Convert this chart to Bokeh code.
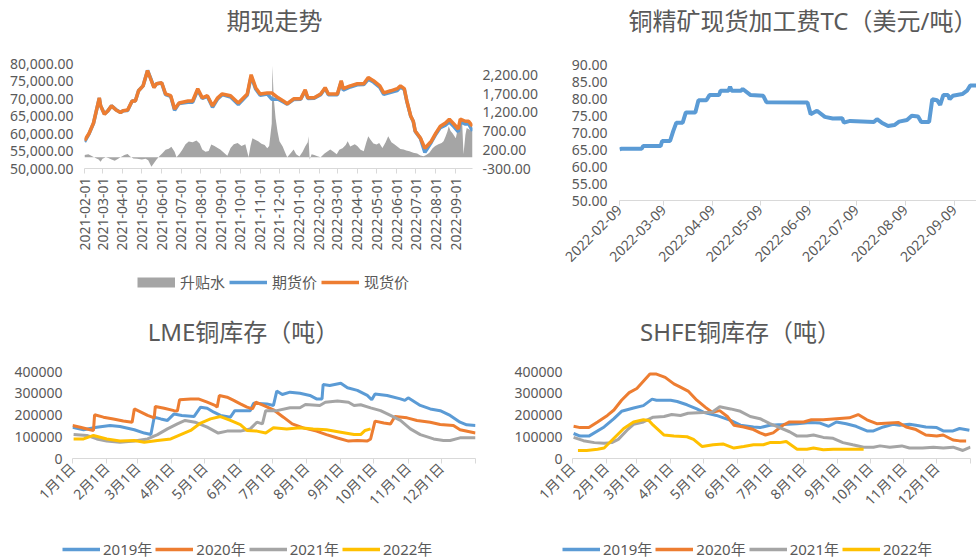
import math
import numpy as np
import pandas as pd
from bokeh.plotting import figure
from bokeh.models import (Range1d, LinearAxis, FixedTicker, NumeralTickFormatter,
                          DatetimeTickFormatter, Legend, LegendItem, Label)
from bokeh.layouts import row, column
from bokeh.embed import file_html
from bokeh.resources import INLINE

# ---------------- data: 期现走势 ----------------
spot_dates = [
    "2021-02-01", "2021-02-08", "2021-02-15", "2021-02-24", "2021-02-26", "2021-03-04", "2021-03-09", "2021-03-15",
    "2021-03-22", "2021-03-29", "2021-04-02", "2021-04-09", "2021-04-16", "2021-04-21", "2021-04-26", "2021-05-03",
    "2021-05-10", "2021-05-14", "2021-05-20", "2021-05-24", "2021-06-01", "2021-06-07", "2021-06-15", "2021-06-21",
    "2021-06-28", "2021-07-12", "2021-07-19", "2021-07-27", "2021-08-03", "2021-08-11", "2021-08-19", "2021-08-27",
    "2021-09-03", "2021-09-16", "2021-09-28", "2021-10-12", "2021-10-18", "2021-10-25", "2021-11-01", "2021-11-12",
    "2021-11-19", "2021-11-29", "2021-12-07", "2021-12-13", "2021-12-23", "2022-01-03", "2022-01-10", "2022-01-14",
    "2022-01-24", "2022-02-03", "2022-02-10", "2022-02-15", "2022-03-01", "2022-03-07", "2022-03-10", "2022-03-21",
    "2022-04-01", "2022-04-11", "2022-04-18", "2022-04-26", "2022-05-06", "2022-05-12", "2022-05-23", "2022-06-02",
    "2022-06-07", "2022-06-13", "2022-06-17", "2022-06-23", "2022-06-27", "2022-06-30", "2022-07-08", "2022-07-15",
    "2022-07-25", "2022-08-01", "2022-08-08", "2022-08-16", "2022-08-22", "2022-08-29", "2022-09-05", "2022-09-08",
    "2022-09-16", "2022-09-21", "2022-09-27"]
spot_price = [
    58000, 60000, 63000, 70200, 67900, 65500, 66400, 67900,
    66700, 66000, 66500, 66700, 69300, 69300, 72200, 73600,
    78000, 76000, 73100, 74200, 74500, 71300, 70800, 67000,
    68700, 69300, 69300, 72800, 70200, 70800, 67900, 70200,
    71300, 70800, 68700, 71300, 76800, 73100, 71300, 71600,
    71600, 70200, 69300, 68500, 69900, 69900, 72500, 70200,
    70200, 71300, 73100, 71300, 71300, 75100, 72800, 73600,
    74200, 74200, 76000, 75100, 73600, 71600, 72200, 72800,
    73600, 72800, 69300, 65000, 63500, 60700, 58700, 55800,
    57800, 60100, 62100, 63000, 64100, 62700, 61300, 64100,
    63500, 63500, 62100]
futures_price = [
    57600, 59900, 62900, 70100, 67900, 65600, 66400, 67900,
    66800, 66000, 66500, 66600, 69300, 69300, 72200, 73600,
    78000, 76200, 73200, 74200, 74400, 71100, 70600, 66600,
    68600, 68900, 68900, 72400, 70000, 70600, 67500, 69900,
    71100, 70400, 68300, 71000, 76300, 72700, 70900, 71300,
    69800, 69800, 69000, 68400, 69700, 69800, 72200, 70000,
    70100, 71100, 72900, 71100, 71100, 74800, 72400, 73300,
    73900, 74000, 75500, 74700, 73200, 71200, 71800, 72300,
    73300, 72600, 69100, 64900, 63400, 60600, 58600, 54600,
    57500, 59800, 61700, 62400, 63300, 62000, 60500, 63300,
    62700, 62800, 60700]
basis_dates = [
    "2021-02-01", "2021-02-07", "2021-02-13", "2021-02-18", "2021-02-23", "2021-02-26", "2021-03-01", "2021-03-06", "2021-03-10", "2021-03-15",
    "2021-03-20", "2021-03-24", "2021-03-29", "2021-04-04", "2021-04-09", "2021-04-13", "2021-04-18", "2021-04-24", "2021-05-01", "2021-05-07",
    "2021-05-11", "2021-05-16", "2021-05-19", "2021-05-24", "2021-05-29", "2021-06-02", "2021-06-07", "2021-06-12", "2021-06-16", "2021-06-21",
    "2021-06-24", "2021-06-29", "2021-07-03", "2021-07-08", "2021-07-13", "2021-07-19", "2021-07-25", "2021-07-30", "2021-08-03", "2021-08-08",
    "2021-08-13", "2021-08-17", "2021-08-22", "2021-08-27", "2021-08-31", "2021-09-07", "2021-09-11", "2021-09-16", "2021-09-21", "2021-09-27",
    "2021-10-03", "2021-10-09", "2021-10-14", "2021-10-17", "2021-10-20", "2021-10-25", "2021-10-29", "2021-11-03", "2021-11-08", "2021-11-12",
    "2021-11-15", "2021-11-19", "2021-11-20", "2021-11-22", "2021-11-25", "2021-11-28", "2021-12-01", "2021-12-06", "2021-12-09", "2021-12-13",
    "2021-12-18", "2021-12-23", "2021-12-27", "2022-01-01", "2022-01-06", "2022-01-10", "2022-01-14", "2022-01-15", "2022-01-17", "2022-01-20",
    "2022-01-24", "2022-01-29", "2022-02-03", "2022-02-09", "2022-02-14", "2022-02-18", "2022-02-23", "2022-02-28", "2022-03-04", "2022-03-09",
    "2022-03-14", "2022-03-17", "2022-03-21", "2022-03-28", "2022-04-01", "2022-04-06", "2022-04-11", "2022-04-15", "2022-04-18", "2022-04-21",
    "2022-04-26", "2022-05-01", "2022-05-05", "2022-05-10", "2022-05-15", "2022-05-19", "2022-05-24", "2022-05-29", "2022-06-02", "2022-06-07",
    "2022-06-12", "2022-06-16", "2022-06-21", "2022-06-27", "2022-07-03", "2022-07-08", "2022-07-13", "2022-07-17", "2022-07-22", "2022-07-27",
    "2022-07-31", "2022-08-05", "2022-08-10", "2022-08-13", "2022-08-16", "2022-08-19", "2022-08-21", "2022-08-24", "2022-08-27", "2022-09-01",
    "2022-09-05", "2022-09-10", "2022-09-11", "2022-09-13", "2022-09-16", "2022-09-18", "2022-09-22", "2022-09-27"]
basis_values = [
    60, 80, 30, -20, -60, -120, -40, 0, -20, -60,
    -90, -50, 0, 60, 90, 20, -30, -40, -60, -40,
    -80, -250, -180, -60, 40, 110, 200, 230, 280, 150,
    0, 100, 200, 350, 420, 400, 450, 370, 210, 150,
    170, 340, 300, 250, 210, 100, 40, 250, 350, 380,
    300, 350, 0, 300, 510, 460, 430, 360, 330, 240,
    300, 900, 2440, 1600, 1040, 690, 430, 290, 160, 0,
    100, 210, 80, 20, 150, 290, 400, 560, -60, 80,
    60, 30, 0, 100, 160, 210, 150, 80, 200, 240,
    330, 430, 290, 345, 300, 200, 160, 400, 560, 480,
    370, 340, 380, 250, 400, 560, 400, 340, 290, 220,
    210, 180, 160, 120, 100, 50, 30, 60, 120, 240,
    300, 345, 380, 430, 550, 690, 830, 700, 640, 510,
    830, 900, 910, 80, 600, 780, 740, 700]
price_ticks = [50000, 55000, 60000, 65000, 70000, 75000, 80000]
basis_ticks = [-300, 200, 700, 1200, 1700, 2200]
month_ticks_1 = ["2021-02-01", "2021-03-01", "2021-04-01", "2021-05-01", "2021-06-01", "2021-07-01",
                 "2021-08-01", "2021-09-01", "2021-10-01", "2021-11-01", "2021-12-01", "2022-01-01",
                 "2022-02-01", "2022-03-01", "2022-04-01", "2022-05-01", "2022-06-01", "2022-07-01",
                 "2022-08-01", "2022-09-01"]

# ---------------- data: 铜精矿现货加工费TC ----------------
tc_dates = [
    "2022-02-09", "2022-02-10", "2022-02-23", "2022-02-24", "2022-03-07", "2022-03-08", "2022-03-13", "2022-03-15",
    "2022-03-17", "2022-03-21", "2022-03-23", "2022-03-29", "2022-03-31", "2022-04-05", "2022-04-07", "2022-04-13",
    "2022-04-14", "2022-04-19", "2022-04-20", "2022-04-21", "2022-04-27", "2022-04-28", "2022-05-03", "2022-05-11",
    "2022-05-13", "2022-06-08", "2022-06-10", "2022-06-14", "2022-06-19", "2022-06-24", "2022-06-30", "2022-07-01",
    "2022-07-05", "2022-07-20", "2022-07-22", "2022-07-25", "2022-07-29", "2022-08-02", "2022-08-05", "2022-08-10",
    "2022-08-13", "2022-08-17", "2022-08-19", "2022-08-24", "2022-08-26", "2022-08-29", "2022-08-31", "2022-09-02",
    "2022-09-05", "2022-09-06", "2022-09-08", "2022-09-14", "2022-09-17", "2022-09-19", "2022-09-26"]
tc_values = [
    65.0, 65.2, 65.2, 66.0, 66.0, 67.5, 67.5, 70.4,
    72.9, 72.9, 75.9, 75.9, 79.5, 79.5, 81.0, 81.0,
    82.3, 82.3, 83.5, 82.3, 82.3, 82.8, 81.0, 80.8,
    78.9, 78.8, 75.4, 76.4, 74.6, 74.1, 74.2, 72.9,
    73.4, 73.1, 73.9, 72.9, 71.9, 72.2, 73.2, 73.7,
    74.9, 74.7, 73.1, 73.1, 79.8, 79.5, 78.1, 81.0,
    81.0, 79.8, 80.8, 81.3, 82.3, 83.8, 83.8]
tc_ticks = [50, 55, 60, 65, 70, 75, 80, 85, 90]
tc_month_ticks = ["2022-02-09", "2022-03-09", "2022-04-09", "2022-05-09", "2022-06-09",
                  "2022-07-09", "2022-08-09", "2022-09-09"]

# ---------------- data: 库存 (day of year, 千吨) ----------------
month_doy = [0, 31, 59, 90, 120, 151, 181, 212, 243, 273, 304, 334]
month_labels = ["1月1日", "2月1日", "3月1日", "4月1日", "5月1日", "6月1日",
                "7月1日", "8月1日", "9月1日", "10月1日", "11月1日", "12月1日"]
stock_ticks = [0, 100000, 200000, 300000, 400000]
years = ["2019年", "2020年", "2021年", "2022年"]

lme_2019_doy = [0, 10, 22, 34, 43, 56, 65, 71, 74, 80, 86, 92, 99, 110, 116, 122, 128, 134, 143, 147,
                161, 164, 176, 182, 185, 190, 197, 206, 215, 221, 226, 227, 233, 243, 249, 258, 267, 271, 274, 285,
                297, 301, 304, 315, 324, 333, 342, 351, 357, 365]
lme_2019_kt = [144, 132, 144, 152, 147, 132, 117, 110, 190, 182, 175, 205, 198, 193, 236, 231, 213, 198, 190, 220,
               220, 254, 251, 244, 310, 294, 305, 300, 290, 274, 274, 340, 336, 346, 325, 313, 290, 270, 297, 290,
               274, 267, 279, 244, 228, 220, 198, 167, 155, 152]
lme_2020_doy = [0, 7, 16, 19, 20, 28, 37, 46, 54, 56, 62, 68, 74, 75, 83, 92, 95, 97, 107, 114,
                122, 129, 131, 133, 140, 146, 152, 158, 163, 166, 173, 182, 191, 199, 209, 221, 230, 240, 250, 258,
                267, 270, 274, 282, 288, 292, 303, 312, 324, 333, 345, 351, 365]
lme_2020_kt = [152, 144, 132, 129, 201, 190, 182, 172, 167, 228, 213, 198, 187, 239, 231, 220, 218, 270, 274, 274,
               259, 244, 236, 290, 282, 267, 251, 236, 228, 259, 244, 224, 190, 159, 141, 126, 110, 94, 80, 83,
               80, 90, 172, 163, 159, 193, 187, 175, 167, 156, 152, 132, 117]
lme_2021_doy = [1, 13, 22, 31, 43, 56, 68, 77, 86, 95, 102, 111, 122, 132, 140, 152, 161, 167, 172, 175,
                185, 197, 206, 211, 224, 229, 240, 250, 255, 261, 270, 279, 288, 297, 306, 315, 327, 336, 342, 351, 365]
lme_2021_kt = [110, 106, 90, 80, 75, 80, 90, 110, 136, 159, 175, 167, 144, 117, 126, 126, 136, 167, 159, 220,
               220, 233, 233, 248, 244, 259, 264, 259, 244, 247, 233, 220, 198, 175, 136, 110, 90, 83, 83, 95, 95]
lme_2022_doy = [1, 10, 19, 31, 43, 56, 65, 77, 89, 98, 107, 116, 125, 134, 143, 152, 158, 167, 175, 182,
                194, 206, 218, 230, 243, 255, 261, 265, 270]
lme_2022_kt = [90, 90, 106, 90, 80, 83, 75, 83, 90, 110, 129, 163, 182, 193, 175, 156, 129, 126, 117, 141,
               136, 141, 136, 132, 121, 110, 110, 129, 136]

shfe_2019_doy = [1, 7, 15, 29, 38, 45, 56, 65, 73, 77, 90, 96, 105, 114, 120, 132, 145, 154, 166, 172,
                 181, 193, 206, 218, 227, 235, 242, 251, 260, 270, 276, 285, 294, 300, 309, 315, 324, 334, 340, 349,
                 355, 364]
shfe_2019_kt = [115, 103, 103, 145, 183, 217, 232, 243, 273, 268, 268, 262, 247, 228, 213, 198, 175, 153, 145, 142,
                153, 156, 160, 165, 163, 148, 168, 160, 148, 127, 127, 145, 157, 153, 157, 153, 145, 142, 127, 127,
                138, 130]
shfe_2020_doy = [1, 7, 15, 23, 32, 38, 45, 52, 59, 65, 71, 77, 85, 93, 99, 106, 114, 122, 128, 135,
                 142, 148, 157, 166, 172, 177, 184, 193, 199, 212, 219, 230, 242, 254, 262, 270, 279, 291, 299, 306,
                 315, 324, 334, 340, 349, 355, 361]
shfe_2020_kt = [148, 142, 142, 168, 198, 223, 268, 303, 322, 355, 388, 388, 373, 343, 328, 310, 268, 235, 213, 220,
                193, 153, 145, 133, 118, 108, 118, 153, 168, 168, 178, 178, 183, 187, 202, 178, 160, 163, 165, 145,
                133, 108, 103, 108, 85, 81, 81]
shfe_2021_doy = [1, 10, 20, 29, 36, 42, 50, 56, 65, 74, 84, 91, 99, 106, 120, 128, 135, 145, 154, 163,
                 172, 181, 190, 199, 206, 215, 221, 230, 239, 248, 257, 267, 276, 282, 291, 302, 309, 321, 331, 340,
                 349, 358, 365]
shfe_2021_kt = [97, 82, 73, 70, 73, 88, 130, 157, 168, 190, 193, 202, 198, 208, 211, 213, 238, 228, 217, 193,
                183, 160, 142, 123, 103, 103, 108, 97, 93, 73, 63, 52, 52, 58, 52, 58, 48, 48, 52, 48,
                52, 37, 52]
shfe_2022_doy = [5, 13, 23, 29, 38, 47, 56, 65, 70, 74, 84, 93, 105, 111, 119, 129, 138, 148, 157, 166,
                 175, 181, 190, 196, 206, 215, 221, 230, 239, 248, 257, 267]
shfe_2022_kt = [37, 37, 43, 48, 93, 138, 168, 178, 175, 153, 108, 103, 100, 88, 55, 63, 67, 48, 55, 63,
                63, 73, 73, 78, 43, 43, 48, 40, 43, 43, 43, 43]

# ---------------- styling helpers ----------------
TXT = "#595959"
AXLINE = "#D9D9D9"
BLUE, ORANGE, GRAY, YELLOW = "#5B9BD5", "#ED7D31", "#A5A5A5", "#FFC000"
NUM_FONT = "Noto Sans"
MIX_FONT = "Noto Sans, Noto Sans CJK SC"


def ms(s):
    return pd.Timestamp(s).value / 1e6


def base_fig(**kw):
    p = figure(output_backend="svg", toolbar_location=None, **kw)
    p.outline_line_color = None
    p.grid.visible = False
    p.background_fill_color = "white"
    p.border_fill_color = "white"
    return p


def blank_fig(width, height, left=0, right=0):
    p = figure(width=width, height=height, output_backend="svg", toolbar_location=None,
               x_range=Range1d(0, width - left - right), y_range=Range1d(0, height),
               x_axis_location=None, y_axis_location=None,
               min_border_left=left, min_border_right=right, min_border_top=0, min_border_bottom=0)
    p.outline_line_color = None
    p.grid.visible = False
    p.background_fill_color = "white"
    p.border_fill_color = "white"
    return p


def add_title(p, text, x, y, align):
    p.add_layout(Label(x=x, y=y, text=text, text_align=align, text_baseline="middle",
                       text_font=MIX_FONT, text_font_size="24px", text_color=TXT))


def add_legend(p, keys, x, y, standoff, spacing):
    items = []
    for label, color, lw in keys:
        r = p.line(x=np.array([np.nan, np.nan]), y=np.array([np.nan, np.nan]), line_color=color, line_width=lw)
        items.append(LegendItem(label=label, renderers=[r]))
    lg = Legend(items=items, orientation="horizontal", location=(x, y))
    lg.border_line_color = None
    lg.background_fill_alpha = 0
    lg.padding = 0
    lg.margin = 0
    lg.spacing = spacing
    lg.label_standoff = standoff
    lg.glyph_width = 38
    lg.glyph_height = 18
    lg.label_height = 18
    lg.label_text_font = MIX_FONT
    lg.label_text_font_size = "15px"
    lg.label_text_color = TXT
    p.add_layout(lg)


def style_y(ax, standoff):
    ax.axis_line_color = None
    ax.major_tick_line_color = None
    ax.minor_tick_line_color = None
    ax.major_tick_out = 0
    ax.major_tick_in = 0
    ax.major_label_text_font = NUM_FONT
    ax.major_label_text_font_size = "14px"
    ax.major_label_text_color = TXT
    ax.major_label_standoff = standoff


def style_x(ax, font, orient, standoff=4):
    ax.axis_line_color = AXLINE
    ax.axis_line_width = 1
    ax.major_tick_line_color = AXLINE
    ax.major_tick_in = 0
    ax.major_tick_out = 5
    ax.minor_tick_line_color = None
    ax.major_label_text_font = font
    ax.major_label_text_font_size = "14px"
    ax.major_label_text_color = TXT
    ax.major_label_orientation = orient
    ax.major_label_standoff = standoff


def dfmt():
    f = "%Y-%m-%d"
    return DatetimeTickFormatter(days=f, months=f, years=f, hours=f, hourmin=f, minutes=f,
                                 minsec=f, seconds=f, milliseconds=f, microseconds=f, context=None)


# ---------------- titles (top strip) ----------------
t_top = blank_fig(976, 40)
add_title(t_top, "期现走势", 274, 20, "center")
add_title(t_top, "铜精矿现货加工费TC（美元/吨）", 628, 20, "left")

# ---------------- 期现走势 ----------------
p1 = base_fig(width=550, height=230, x_axis_type="datetime",
              x_range=Range1d(ms("2021-02-01"), ms("2022-09-27")),
              y_range=Range1d(50000, 80000),
              min_border_left=84, min_border_right=78, min_border_top=23, min_border_bottom=102)
p1.extra_y_ranges = {"basis": Range1d(-300, 2500)}
p1.varea(x=pd.to_datetime(basis_dates), y1=0, y2=basis_values, y_range_name="basis", fill_color=GRAY)
p1.line(x=pd.to_datetime(spot_dates), y=futures_price, line_color=BLUE, line_width=3.5)
p1.line(x=pd.to_datetime(spot_dates), y=spot_price, line_color=ORANGE, line_width=3.5)
p1.yaxis.ticker = FixedTicker(ticks=price_ticks)
p1.yaxis.formatter = NumeralTickFormatter(format="0,0.00")
style_y(p1.yaxis[0], 11)
rax = LinearAxis(y_range_name="basis", ticker=FixedTicker(ticks=basis_ticks),
                 formatter=NumeralTickFormatter(format="0,0.00"))
style_y(rax, 10)
p1.add_layout(rax, "right")
p1.xaxis.ticker = FixedTicker(ticks=[ms(d) for d in month_ticks_1])
p1.xaxis.formatter = dfmt()
style_x(p1.xaxis[0], NUM_FONT, math.pi / 2)
l1 = blank_fig(550, 35, left=84, right=78)
add_legend(l1, [("升贴水", GRAY, 10), ("期货价", BLUE, 3.5), ("现货价", ORANGE, 3.5)], 53, 13, 5, 4)

# ---------------- TC ----------------
p2 = base_fig(width=426, height=265, x_axis_type="datetime",
              x_range=Range1d(ms("2022-02-09"), ms("2022-09-23")),
              y_range=Range1d(50, 90),
              min_border_left=69, min_border_right=0, min_border_top=24, min_border_bottom=105)
p2.line(x=pd.to_datetime(tc_dates), y=tc_values, line_color=BLUE, line_width=4)
p2.yaxis.ticker = FixedTicker(ticks=tc_ticks)
p2.yaxis.formatter = NumeralTickFormatter(format="0.00")
style_y(p2.yaxis[0], 12)
p2.xaxis.ticker = FixedTicker(ticks=[ms(d) for d in tc_month_ticks])
p2.xaxis.formatter = dfmt()
style_x(p2.xaxis[0], NUM_FONT, math.pi / 4, standoff=2)


# ---------------- 库存 ----------------
def stock_fig(width, left, right, top, bottom, series):
    p = base_fig(width=width, height=185, x_range=Range1d(0, 365), y_range=Range1d(0, 400000),
                 min_border_left=left, min_border_right=right, min_border_top=top, min_border_bottom=bottom)
    for color, (doy, kt) in zip([BLUE, ORANGE, GRAY, YELLOW], series):
        p.line(x=doy, y=[v * 1000 for v in kt], line_color=color, line_width=3)
    p.yaxis.ticker = FixedTicker(ticks=stock_ticks)
    p.yaxis.formatter = NumeralTickFormatter(format="0")
    style_y(p.yaxis[0], 10)
    p.xaxis.ticker = FixedTicker(ticks=month_doy + [365])
    overrides = {d: lab for d, lab in zip(month_doy, month_labels)}
    overrides[365] = ""
    p.xaxis.major_label_overrides = overrides
    style_x(p.xaxis[0], MIX_FONT, math.pi / 4, standoff=2)
    return p


t_bot = blank_fig(976, 45)
add_title(t_bot, "LME铜库存（吨）", 243, 19, "center")
add_title(t_bot, "SHFE铜库存（吨）", 740, 19, "center")
p3 = stock_fig(490, 72, 15, 21, 77,
               [(lme_2019_doy, lme_2019_kt), (lme_2020_doy, lme_2020_kt),
                (lme_2021_doy, lme_2021_kt), (lme_2022_doy, lme_2022_kt)])
p4 = stock_fig(486, 82, 6, 20, 76,
               [(shfe_2019_doy, shfe_2019_kt), (shfe_2020_doy, shfe_2020_kt),
                (shfe_2021_doy, shfe_2021_kt), (shfe_2022_doy, shfe_2022_kt)])
year_keys = list(zip(years, [BLUE, ORANGE, GRAY, YELLOW], [3.5, 3.5, 3.5, 3.5]))
l_bot = blank_fig(976, 24)
add_legend(l_bot, year_keys, 62, 0, 3, 3)
add_legend(l_bot, year_keys, 562, 0, 3, 3)

layout = column(t_top,
                row(column(p1, l1), p2),
                t_bot,
                row(p3, p4),
                l_bot)
open("out.html", "w").write(file_html(layout, INLINE))
